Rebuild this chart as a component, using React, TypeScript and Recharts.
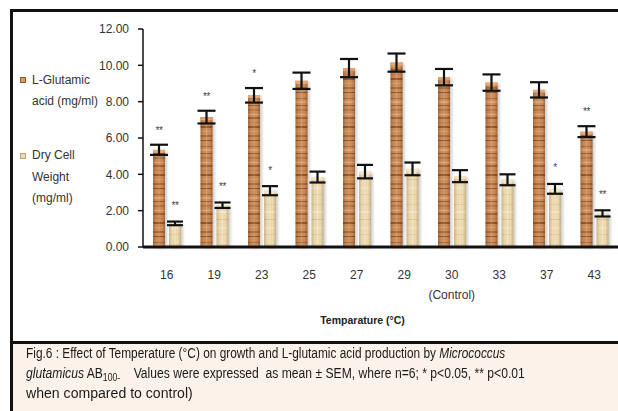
import React, { useLayoutEffect, useRef } from 'react';
import { BarChart, Bar, XAxis, YAxis, ErrorBar, LabelList, Label } from 'recharts';

const temps = ['16', '19', '23', '25', '27', '29', '30', '33', '37', '43'];
const tempNotes = ['', '', '', '', '', '', '(Control)', '', '', ''];
const glutamic = [5.35, 7.15, 8.35, 9.15, 9.85, 10.15, 9.35, 9.05, 8.65, 6.35];
const glutamicSem = [0.28, 0.35, 0.4, 0.45, 0.5, 0.5, 0.45, 0.45, 0.42, 0.3];
const glutamicSig = ['**', '**', '*', '', '', '', '', '', '', '**'];
const dcw = [1.3, 2.3, 3.1, 3.85, 4.15, 4.3, 3.9, 3.7, 3.2, 1.85];
const dcwSem = [0.1, 0.15, 0.25, 0.3, 0.37, 0.35, 0.33, 0.3, 0.27, 0.17];
const dcwSig = ['**', '**', '*', '', '', '', '', '', '*', '**'];
const yTicks = [0, 2, 4, 6, 8, 10, 12];

const data = temps.map((t, i) => ({
  temp: t,
  note: tempNotes[i],
  glut: glutamic[i],
  glutErr: glutamicSem[i],
  glutSig: glutamicSig[i],
  dcw: dcw[i],
  dcwErr: dcwSem[i],
  dcwSig: dcwSig[i],
}));

const axisFont = '"Liberation Sans", Arial, sans-serif';
const captionFont = '"Liberation Sans Narrow", "Liberation Sans", sans-serif';

// bar with a striped "wood" fill, side shading and a soft shadow
const TexturedBar = (props: any) => {
  const { x, y, width, height, kind } = props;
  if (!height || height <= 0) return null;
  const wood = kind === 'wood';
  return (
    <g>
      <rect x={x + 2} y={y + 1} width={width} height={height} fill="#000" opacity={0.2} filter="url(#barShadow)" />
      <rect x={x} y={y} width={width} height={height} fill={wood ? 'url(#woodTex)' : 'url(#creamTex)'} />
      <rect x={x} y={y} width={width} height={height} fill={wood ? 'url(#woodShade)' : 'url(#creamShade)'} />
      <rect x={x} y={y} width={width} height={3} fill={wood ? '#f3b982' : '#f8ecd2'} opacity={0.75} />
    </g>
  );
};

const sigLabel = (errs: number[], vals: number[], lift: number) => (props: any) => {
  const { value, index } = props;
  if (!value) return null;
  const vb = props.viewBox || props;
  const x = props.x ?? vb.x;
  const y = props.y ?? vb.y;
  const w = props.width ?? vb.width;
  const h = props.height ?? vb.height;
  const pxPerUnit = h / vals[index];
  const errTop = y - errs[index] * pxPerUnit;
  return (
    <text x={x + w / 2} y={errTop - lift} textAnchor="middle" fontSize={10} fill="#444"
      fontFamily={axisFont} letterSpacing={-0.5}>
      {value}
    </text>
  );
};

const TempTick = (props: any) => {
  const { x, y, payload, index } = props;
  const note = tempNotes[index] ?? data[index]?.note;
  return (
    <g>
      <text x={x} y={y + 32} textAnchor="middle" fontSize={12} fill="#333" fontFamily={axisFont}>
        {payload.value}
      </text>
      {note ? (
        <text x={x} y={y + 52} textAnchor="middle" fontSize={12} fill="#333" fontFamily={axisFont}>
          {note}
        </text>
      ) : null}
    </g>
  );
};

// one caption line squeezed horizontally to the width it has in the figure
const CaptionLine = ({ left, top, width, children }: { left: number; top: number; width: number; children: React.ReactNode }) => {
  const ref = useRef<HTMLDivElement>(null);
  useLayoutEffect(() => {
    const el = ref.current;
    if (!el) return;
    el.style.transform = 'none';
    const natural = el.offsetWidth;
    if (natural > 0) el.style.transform = `scaleX(${width / natural})`;
  }, [width]);
  return (
    <div ref={ref} style={{
      position: 'absolute', left, top, display: 'inline-block', whiteSpace: 'pre', transformOrigin: '0 0',
      fontFamily: captionFont, fontSize: 14, lineHeight: '16px', color: '#1a1a1a',
    }}>
      {children}
    </div>
  );
};

export default function App() {
  return (
    <div style={{ position: 'absolute', left: 0, top: 0, width: 618, height: 411, background: '#fff', overflow: 'hidden' }}>
      {/* frame */}
      <div style={{ position: 'absolute', left: 10, top: 9, width: 608, height: 402, borderLeft: '3px solid #111', borderTop: '3px solid #111' }} />

      <div style={{ position: 'absolute', left: 0, top: 0 }}>
        <BarChart width={618} height={340} data={data} margin={{ top: 29, right: 0, bottom: 0, left: 0 }} barSize={12} barGap={4}>
          <defs>
            <pattern id="woodTex" patternUnits="userSpaceOnUse" width="12" height="48">
              <rect width="12" height="48" fill="#cd8d59" />
              <rect y="2" width="12" height="1" fill="#a96a3c" />
              <rect y="5" width="12" height="2" fill="#dea572" />
              <rect y="9" width="12" height="1" fill="#9a5e34" />
              <rect y="13" width="12" height="2" fill="#b7764a" />
              <rect y="18" width="12" height="1" fill="#e4ad7a" />
              <rect y="21" width="12" height="2" fill="#a0633a" />
              <rect y="26" width="12" height="1" fill="#c07d4e" />
              <rect y="30" width="12" height="2" fill="#93582f" />
              <rect y="35" width="12" height="1" fill="#d89d6a" />
              <rect y="39" width="12" height="2" fill="#a86b40" />
              <rect y="44" width="12" height="1" fill="#8e552e" />
            </pattern>
            <pattern id="creamTex" patternUnits="userSpaceOnUse" width="12" height="40">
              <rect width="12" height="40" fill="#efdcb2" />
              <rect y="4" width="12" height="1" fill="#e3cc9d" />
              <rect y="11" width="12" height="2" fill="#f5e8c9" />
              <rect y="19" width="12" height="1" fill="#dfc796" />
              <rect y="27" width="12" height="2" fill="#f3e4c2" />
              <rect y="34" width="12" height="1" fill="#e5cfa2" />
            </pattern>
            <linearGradient id="woodShade" x1="0" y1="0" x2="1" y2="0">
              <stop offset="0" stopColor="#5a3010" stopOpacity={0.35} />
              <stop offset="0.3" stopColor="#5a3010" stopOpacity={0} />
              <stop offset="0.5" stopColor="#ffe0c0" stopOpacity={0.18} />
              <stop offset="0.72" stopColor="#5a3010" stopOpacity={0} />
              <stop offset="1" stopColor="#5a3010" stopOpacity={0.4} />
            </linearGradient>
            <linearGradient id="creamShade" x1="0" y1="0" x2="1" y2="0">
              <stop offset="0" stopColor="#8a7040" stopOpacity={0.35} />
              <stop offset="0.3" stopColor="#8a7040" stopOpacity={0} />
              <stop offset="0.5" stopColor="#ffffff" stopOpacity={0.25} />
              <stop offset="0.72" stopColor="#8a7040" stopOpacity={0} />
              <stop offset="1" stopColor="#8a7040" stopOpacity={0.4} />
            </linearGradient>
            <filter id="barShadow" x="-50%" y="-10%" width="200%" height="120%">
              <feGaussianBlur stdDeviation="1.5" />
            </filter>
          </defs>
          <XAxis dataKey="temp" height={93} tickLine={false} tickSize={0} tickMargin={0}
            axisLine={{ stroke: '#111', strokeWidth: 3 }} tick={<TempTick />} interval={0}>
            <Label content={(p: any) => {
              const vb = p.viewBox;
              return (
                <text x={vb.x + vb.width / 2 - 18} y={vb.y + 77} textAnchor="middle" fontSize={10.5}
                  fontWeight="bold" fill="#222" fontFamily={axisFont}>
                  Temparature (°C)
                </text>
              );
            }} />
          </XAxis>
          <YAxis width={143} domain={[0, 12]} ticks={yTicks} tickFormatter={(v: number) => v.toFixed(2)}
            axisLine={{ stroke: '#111', strokeWidth: 1.5 }} tickLine={{ stroke: '#111', strokeWidth: 1.5 }}
            tickSize={5} tickMargin={9} tick={{ fontSize: 12, fill: '#333', fontFamily: axisFont }} />
          <Bar dataKey="glut" isAnimationActive={false} shape={(p: any) => <TexturedBar {...p} kind="wood" />}>
            <ErrorBar dataKey="glutErr" width={9} strokeWidth={2.2} stroke="#111" />
            <LabelList dataKey="glutSig" content={sigLabel(glutamicSem, glutamic, 11)} />
          </Bar>
          <Bar dataKey="dcw" isAnimationActive={false} shape={(p: any) => <TexturedBar {...p} kind="cream" />}>
            <ErrorBar dataKey="dcwErr" width={8} strokeWidth={2.2} stroke="#111" />
            <LabelList dataKey="dcwSig" content={sigLabel(dcwSem, dcw, 12.5)} />
          </Bar>
        </BarChart>
      </div>

      {/* legend */}
      <div style={{ position: 'absolute', left: 20, top: 77, width: 6, height: 6, background: '#d89a63', border: '1px solid #9c5a2c', boxSizing: 'border-box' }} />
      <div style={{ position: 'absolute', left: 32, top: 70, fontSize: 12, lineHeight: '21px', color: '#333', fontFamily: axisFont, whiteSpace: 'nowrap' }}>
        L-Glutamic<br />acid (mg/ml)
      </div>
      <div style={{ position: 'absolute', left: 20, top: 153, width: 6, height: 6, background: '#ecdcb5', border: '1px solid #b8a276', boxSizing: 'border-box' }} />
      <div style={{ position: 'absolute', left: 32, top: 145, fontSize: 12, lineHeight: '21.5px', color: '#333', fontFamily: axisFont, whiteSpace: 'nowrap' }}>
        Dry Cell<br />Weight<br />(mg/ml)
      </div>

      {/* caption */}
      <div style={{ position: 'absolute', left: 10, top: 341, width: 608, height: 3, background: '#111' }} />
      <div style={{ position: 'absolute', left: 13, top: 344, width: 605, height: 67, background: '#fdf2e9' }} />
      <CaptionLine left={26} top={345} width={479}>
        Fig.6 : Effect of Temperature (°C) on growth and L-glutamic acid production by <i>Micrococcus</i>
      </CaptionLine>
      <CaptionLine left={26} top={365} width={499}>
        <i>glutamicus</i> AB<span style={{ fontSize: 10, verticalAlign: -3, lineHeight: 0 }}>100-</span>{'    Values were expressed  as mean ± SEM, where n=6; * p<0.05, ** p<0.01'}
      </CaptionLine>
      <CaptionLine left={26} top={384.5} width={167}>
        when compared to control)
      </CaptionLine>
    </div>
  );
}
